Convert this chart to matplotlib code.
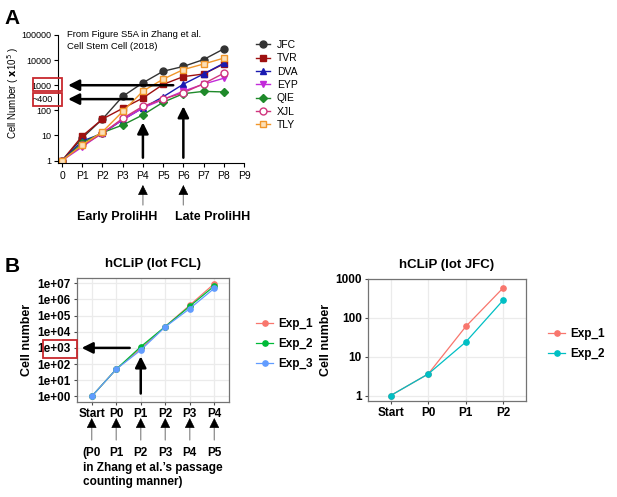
import matplotlib.pyplot as plt
from matplotlib.patches import Rectangle
from matplotlib.transforms import blended_transform_factory
import numpy as np

plt.rcParams['font.family'] = ['Liberation Sans', 'DejaVu Sans']

# ---- panel A : cell number (x10^5) per passage, Zhang et al. S5A
passA = ['0', 'P1', 'P2', 'P3', 'P4', 'P5', 'P6', 'P7', 'P8', 'P9']
jfc = [1, 8, 45, 360, 1250, 3600, 5600, 10500, 28000]
tvr = [1, 9.5, 45, 120, 310, 1080, 2200, 2800, 7000]
dva = [1, 6, 12, 42, 125, 345, 1100, 2800, 7500]
eyp = [1, 3.5, 13, 42, 125, 270, 580, 1100, 1900]
qie = [1, 5, 13, 26, 66, 210, 460, 570, 540]
xjl = [1, 4, 12, 48, 145, 280, 500, 1150, 3000]
tly = [1, 4.2, 14, 90, 580, 1750, 4200, 7000, 12000]
yticksA = [1, 10, 100, 1000, 10000, 100000]
ylabelsA = ['1', '10', '100', '1000', '10000', '100000']

# ---- panel B left : hCLiP lot FCL
stagesFCL = ['Start', 'P0', 'P1', 'P2', 'P3', 'P4']
fcl_exp1 = [1, 48, 930, 21000, 4.4e5, 9.5e6]
fcl_exp2 = [1, 48, 1180, 21000, 3.8e5, 6.8e6]
fcl_exp3 = [1, 48, 730, 20000, 2.7e5, 4.9e6]
zhang_names = ['(P0', 'P1', 'P2', 'P3', 'P4', 'P5']

# ---- panel B right : hCLiP lot JFC
stagesJFC = ['Start', 'P0', 'P1', 'P2']
jfc_exp1 = [1, 3.6, 60, 600]
jfc_exp2 = [1, 3.6, 24, 290]

W, H = 617, 497
fig = plt.figure(figsize=(W / 100, H / 100), dpi=100)


def fx(px):
    return px / W


def fy(py):
    return 1 - py / H


def box(x0, y0, x1, y1):
    fig.patches.append(Rectangle((fx(x0), fy(y1)), fx(x1 - x0), (y1 - y0) / H,
                                 transform=fig.transFigure, fill=False,
                                 edgecolor='#C8282D', lw=1.3))


arrow = dict(arrowstyle='-|>,head_length=0.6,head_width=0.3', color='black',
             lw=1.8, mutation_scale=11, shrinkA=0, shrinkB=0)


def small_up_arrow(ax, x, y_tail, y_tip):
    # grey shaft, black head, y in figure pixels
    tr = ('data', 'figure fraction')
    ax.annotate('', xy=(x, fy(y_tip + 4)), xycoords=tr,
                xytext=(x, fy(y_tail)), textcoords=tr,
                arrowprops=dict(arrowstyle='-', color='0.55', lw=0.9,
                                shrinkA=0, shrinkB=0))
    ax.annotate('', xy=(x, fy(y_tip)), xycoords=tr,
                xytext=(x, fy(y_tip + 5)), textcoords=tr,
                arrowprops=dict(arrowstyle='-|>,head_length=0.7,head_width=0.35',
                                color='black', lw=0.5, mutation_scale=9,
                                shrinkA=0, shrinkB=0))


# ================= panel A
axA = fig.add_axes([fx(58), fy(163), fx(244 - 58), (163 - 35) / H])
xa = np.arange(len(jfc))
seriesA = [
    ('JFC', jfc, '#333333', 'o', '#333333'),
    ('TVR', tvr, '#9E1010', 's', '#9E1010'),
    ('DVA', dva, '#1A1AB0', '^', '#1A1AB0'),
    ('EYP', eyp, '#C22BD9', 'v', '#C22BD9'),
    ('QIE', qie, '#1F8A2A', 'D', '#1F8A2A'),
    ('XJL', xjl, '#D0357E', 'o', 'white'),
    ('TLY', tly, '#F0962A', 's', '#FCE0B8'),
]
for name, vals, col, mk, mfc in seriesA:
    ms = 4.2 if mk == 'D' else 5
    axA.plot(xa, vals, color=col, lw=1.0, marker=mk, ms=ms, mfc=mfc, mec=col,
             mew=1.0, label=name)
axA.set_yscale('log')
axA.set_ylim(0.8, 100000)
axA.set_xlim(-0.2, 9)
axA.set_yticks(yticksA)
axA.set_yticklabels(ylabelsA)
axA.minorticks_off()
axA.set_xticks(range(len(passA)))
axA.set_xticklabels(passA)
axA.spines['top'].set_visible(False)
axA.spines['right'].set_visible(False)
axA.tick_params(axis='y', labelsize=6.5, length=3, pad=2)
axA.tick_params(axis='x', labelsize=7.5, length=3, pad=3)
axA.set_ylabel('Cell Number ( $\\mathbf{x}$10$^5$ )', fontsize=7)
axA.yaxis.set_label_coords((21 - 58) / (244 - 58), 0.55)
fig.text(fx(67), fy(40.5), 'From Figure S5A in Zhang et al.\nCell Stem Cell (2018)',
         fontsize=6.8, va='center', ha='left', linespacing=1.35)
axA.legend(loc='center left', bbox_to_anchor=(fx(256), fy(85)),
           bbox_transform=fig.transFigure, frameon=False, fontsize=7.5,
           labelspacing=0.32, handlelength=1.3, handletextpad=0.7,
           borderpad=0, borderaxespad=0)

# red boxes around the 1000 tick and the ~400 mark
box(33, 77.5, 62, 91)
box(33, 92.5, 62, 105.5)
fig.text(fx(52.5), fy(99), '~400', fontsize=6.5, ha='right', va='center')

axA.annotate('', xy=(0.3, 1000), xytext=(5.5, 1000), arrowprops=arrow)
axA.annotate('', xy=(0.3, 280), xytext=(3.5, 280), arrowprops=arrow)
axA.annotate('', xy=(4, 33), xytext=(4, 1.3), arrowprops=arrow)
axA.annotate('', xy=(6, 145), xytext=(6, 1.3), arrowprops=arrow)
for xp in [4, 6]:
    small_up_arrow(axA, xp, 205, 185)
fig.text(fx(117), fy(217), 'Early ProliHH', fontsize=9, fontweight='bold',
         ha='center', va='center')
fig.text(fx(213), fy(217), 'Late ProliHH', fontsize=9, fontweight='bold',
         ha='center', va='center')

fig.text(fx(12), fy(18), 'A', fontsize=15, fontweight='bold', ha='center', va='center')
fig.text(fx(12), fy(266), 'B', fontsize=15, fontweight='bold', ha='center', va='center')


# ================= panel B (ggplot-like)
def gg_axes(ax, stages, all_vals, ticks, labels, title):
    lo = np.log10(min(min(v) for v in all_vals))
    hi = np.log10(max(max(v) for v in all_vals))
    pad = 0.05 * (hi - lo)
    ax.set_yscale('log')
    ax.set_ylim(10 ** (lo - pad), 10 ** (hi + pad))
    ax.set_xlim(-0.6, len(stages) - 0.4)
    ax.set_xticks(range(len(stages)))
    ax.set_xticklabels(stages)
    ax.set_yticks(ticks)
    ax.set_yticklabels(labels)
    ax.minorticks_off()
    ax.grid(True, color='#EBEBEB', lw=0.9)
    ax.set_axisbelow(True)
    for s in ax.spines.values():
        s.set_color('0.45')
        s.set_linewidth(0.9)
    ax.tick_params(labelsize=8.5, length=2.5, color='0.3', pad=2)
    for lab in ax.get_xticklabels() + ax.get_yticklabels():
        lab.set_fontweight('bold')
    ax.set_ylabel('Cell number', fontsize=9, fontweight='bold', labelpad=3)
    ax.set_title(title, fontsize=9.5, fontweight='bold', pad=8)


def gg_legend(ax, xpx):
    ax.legend(loc='center left', bbox_to_anchor=(fx(xpx), fy(344)),
              bbox_transform=fig.transFigure, frameon=False,
              prop={'size': 8.5, 'weight': 'bold'}, labelspacing=0.7,
              handlelength=1.45, handletextpad=0.45, borderpad=0,
              borderaxespad=0)


axB1 = fig.add_axes([fx(77), fy(402), fx(229 - 77), (402 - 278) / H])
xb1 = np.arange(len(stagesFCL))
for name, vals, col in [('Exp_1', fcl_exp1, '#F8766D'),
                        ('Exp_2', fcl_exp2, '#00BA38'),
                        ('Exp_3', fcl_exp3, '#619CFF')]:
    axB1.plot(xb1, vals, color=col, lw=0.9, marker='o', ms=3.8, label=name)
gg_axes(axB1, stagesFCL, [fcl_exp1, fcl_exp2, fcl_exp3],
        [10.0 ** k for k in range(8)], ['1e+0%d' % k for k in range(8)],
        'hCLiP (lot FCL)')
gg_legend(axB1, 256)

box(42.5, 340, 77, 357.5)
axB1.annotate('', xy=(-0.41, 1000), xytext=(1.55, 1000), arrowprops=arrow)
axB1.annotate('', xy=(2, 300), xytext=(2, 1.5), arrowprops=arrow)
trB = blended_transform_factory(axB1.transData, fig.transFigure)
for i, nm in enumerate(zhang_names):
    small_up_arrow(axB1, i, 440, 418)
    axB1.text(i, fy(453), nm, transform=trB, fontsize=8.5, fontweight='bold',
              ha='center', va='center')
fig.text(fx(83), fy(468), 'in Zhang et al.\u2019s passage', fontsize=8.5,
         fontweight='bold', ha='left', va='center')
fig.text(fx(83), fy(482), 'counting manner)', fontsize=8.5,
         fontweight='bold', ha='left', va='center')

axB2 = fig.add_axes([fx(368), fy(401), fx(526 - 368), (401 - 279) / H])
xb2 = np.arange(len(stagesJFC))
for name, vals, col in [('Exp_1', jfc_exp1, '#F8766D'),
                        ('Exp_2', jfc_exp2, '#00BFC4')]:
    axB2.plot(xb2, vals, color=col, lw=0.9, marker='o', ms=3.8, label=name)
gg_axes(axB2, stagesJFC, [jfc_exp1, jfc_exp2], [1, 10, 100, 1000],
        ['1', '10', '100', '1000'], 'hCLiP (lot JFC)')
axB2.yaxis.set_label_coords((332 - 368) / (526 - 368), 0.5)
gg_legend(axB2, 548)

fig.savefig('out.png', dpi=100)
